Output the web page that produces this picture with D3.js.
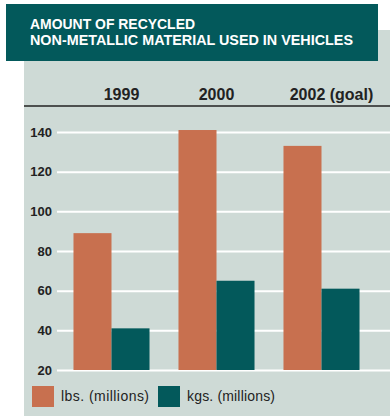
<!DOCTYPE html>
<html><head><meta charset="utf-8">
<script src="https://cdn.jsdelivr.net/npm/d3@7"></script>
<style>body{margin:0;background:#fff}svg{display:block}</style>
</head><body>
<script>
const years = ["1999", "2000", "2002 (goal)"];
const seriesNames = ["lbs. (millions)", "kgs. (millions)"];
const lbs = [89, 141, 133];
const kgs = [41, 65, 61];
const yTicks = [20, 40, 60, 80, 100, 120, 140];
const titleLines = ["AMOUNT OF RECYCLED", "NON-METALLIC MATERIAL USED IN VEHICLES"];

const W = 390, H = 416;
const colors = {bg:"#cedad6", orange:"#c8704f", teal:"#03595b", title:"#03595b"};
const svg = d3.select("body").append("svg").attr("width", W).attr("height", H);

// panel
svg.append("rect").attr("x",24).attr("y",30).attr("width",W-24).attr("height",H-30).attr("fill",colors.bg);
// title box
svg.append("rect").attr("x",6).attr("y",4).attr("width",372).attr("height",57).attr("fill",colors.title);
const tW = [165, 323];
titleLines.forEach((t,i)=>{
  svg.append("text").attr("x",30).attr("y",29+i*15.5)
    .attr("font-family","'Liberation Sans Narrow', 'Liberation Sans', sans-serif")
    .attr("font-weight","bold").attr("font-size",15).attr("fill","#fff")
    .attr("textLength", tW[i]).attr("lengthAdjust","spacingAndGlyphs")
    .text(t);
});

const x = d3.scaleBand().domain(years).range([59, 374]).paddingInner(0.276).paddingOuter(0.138);
const xs = d3.scaleBand().domain(seriesNames).range([0, x.bandwidth()]);
const y = d3.scaleLinear().domain([20, 140]).range([370, 132]);

// header rule
svg.append("line").attr("x1",24).attr("x2",W).attr("y1",106).attr("y2",106)
  .attr("stroke","#222").attr("stroke-width",1.5);

// year labels
const nudge = [10, 0, 10];
svg.selectAll(".yr").data(years).join("text")
  .attr("x",(d,i)=>x(d)+x.bandwidth()/2+nudge[i]).attr("y",100)
  .attr("text-anchor","middle")
  .attr("font-family","'Liberation Sans', Arial, sans-serif").attr("font-weight","bold")
  .attr("font-size",16).attr("fill","#222").text(d=>d);

// axis with gridlines
const ax = svg.append("g").attr("transform","translate(57,0)")
  .call(d3.axisLeft(y).tickValues(yTicks).tickSize(-(W-57)).tickPadding(5).tickFormat(d3.format("d")));
ax.select(".domain").remove();
ax.selectAll(".tick line").attr("stroke","#fff").attr("stroke-width",2);
ax.selectAll(".tick text").attr("font-family","'Liberation Sans Narrow', sans-serif")
  .attr("font-weight","bold").attr("font-size",13).attr("fill","#222");

// bars
const data = years.map((yr,i)=>({yr, vals:[lbs[i], kgs[i]]}));
const g = svg.selectAll(".grp").data(data).join("g").attr("transform",d=>`translate(${x(d.yr)},0)`);
g.selectAll("rect").data(d=>d.vals.map((v,j)=>({s:seriesNames[j], v}))).join("rect")
  .attr("x",d=>xs(d.s)).attr("width",xs.bandwidth())
  .attr("y",d=>y(d.v)).attr("height",d=>y(20)-y(d.v))
  .attr("fill",(d,j)=>j===0?colors.orange:colors.teal);

// legend
const leg = [{x:32, c:colors.orange, t:seriesNames[0]},{x:158, c:colors.teal, t:seriesNames[1]}];
leg.forEach(l=>{
  svg.append("rect").attr("x",l.x).attr("y",386).attr("width",22).attr("height",21).attr("fill",l.c);
  svg.append("text").attr("x",l.x+29).attr("y",401)
    .attr("font-family","'Liberation Sans', Arial, sans-serif").attr("font-size",14).attr("fill","#222")
    .attr("textLength",88).attr("lengthAdjust","spacing").text(l.t);
});
</script>
</body></html>
